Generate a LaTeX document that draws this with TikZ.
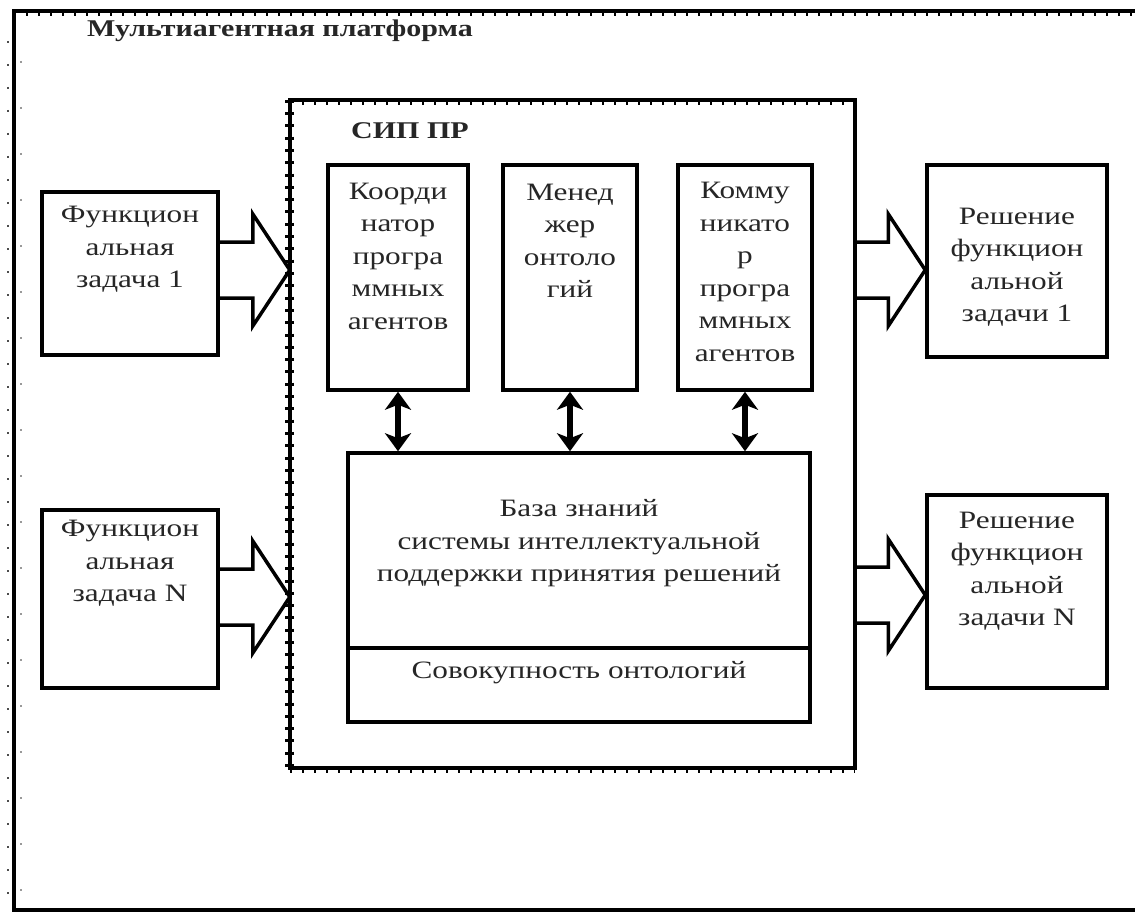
\documentclass[tikz,border=0pt]{standalone}
\usepackage{fontspec}
\setmainfont{Liberation Serif}[FakeStretch=1.25]
\usetikzlibrary{arrows.meta,calc}

\tikzset{
  box/.style={draw, line width=3.5pt, rectangle, inner sep=0pt},
  txt/.style={align=center, font=\fontsize{25}{32.5}\selectfont, text=black!85, inner sep=0pt},
  ttl/.style={font=\bfseries\fontsize{24}{30}\selectfont, text=black!85, anchor=west, inner sep=0pt},
  fat/.style={draw, line width=3.5pt, line join=miter},
  dbl/.style={line width=5.5pt,
    {Stealth[length=18pt,width=26pt,inset=5pt]}-{Stealth[length=18pt,width=26pt,inset=5pt]}},
  edge/.style={line width=3.5pt},
  ticks/.style={line width=4pt, dash pattern=on 2pt off 10pt},
  beads/.style={line width=9pt, dash pattern=on 3pt off 9.3pt},
}

% wide hollow arrow from #1 to #2 (both on the same horizontal line)
\newcommand{\fatarrow}[2]{%
  \draw[fat] let \p1=(#1), \p2=(#2) in
    (\x1,\y1+28pt) -- (\x2-37pt,\y1+28pt) -- (\x2-37pt,\y1+56pt) -- (\x2,\y1)
    -- (\x2-37pt,\y1-56pt) -- (\x2-37pt,\y1-28pt) -- (\x1,\y1-28pt);}

\begin{document}
\begin{tikzpicture}[x=1pt,y=-1pt]
\useasboundingbox (0,0) rectangle (1135,912);

% outer frame of the platform (open on the right)
\coordinate (otr) at (1135,11);
\coordinate (otl) at (14,11);
\coordinate (obl) at (14,910);
\coordinate (obr) at (1135,910);
\draw[edge] (otr) -- (otl) -- (obl) -- (obr);
\draw[ticks] ([yshift=-3pt]otl) -- ([yshift=-3pt]otr);
\draw[line width=2pt, dash pattern=on 2pt off 21pt, black!70] ([xshift=-6pt,yshift=-30pt]otl) -- ([xshift=-6pt]obl);
\draw[line width=1.5pt, dash pattern=on 2pt off 44pt, black!40] ([xshift=7pt,yshift=-50pt]otl) -- ([xshift=7pt]obl);
\node[ttl] (title) at (87,31) {Мультиагентная платформа};

% decision support subsystem frame
\node[minimum width=565pt, minimum height=668pt, inner sep=0pt] (sip) at (572.5,434) {};
\draw[edge] (sip.north east) -- (sip.north west) -- (sip.south west) -- (sip.south east) -- cycle;
\draw[ticks] ([yshift=-3pt]sip.north west) -- ([yshift=-3pt]sip.north east);
\draw[ticks] ([yshift=-3pt]sip.south west) -- ([yshift=-3pt]sip.south east);
\draw[beads] (sip.north west) -- (sip.south west);
\node[ttl] (siptitle) at (351,131) {СИП ПР};

% functional tasks
\node[box, minimum width=176pt, minimum height=163pt] (f1) at (130,273.5) {};
\node[txt] (f1t) at (130,249.5) {Функцион\\альная\\задача 1};
\node[box, minimum width=176pt, minimum height=178pt] (fN) at (130,599) {};
\node[txt] (fNt) at (130,563.5) {Функцион\\альная\\задача N};

% agents of the subsystem
\node[box, minimum width=140pt, minimum height=225pt] (c1) at (398,277.5) {};
\node[txt] (c1t) at (398,256) {Коорди\\натор\\програ\\ммных\\агентов};
\node[box, minimum width=134pt, minimum height=225pt] (c2) at (570,277.5) {};
\node[txt] (c2t) at (570,241) {Менед\\жер\\онтоло\\гий};
\node[box, minimum width=134pt, minimum height=225pt] (c3) at (745,277.5) {};
\node[txt] (c3t) at (745,272) {Комму\\никато\\р\\програ\\ммных\\агентов};

% knowledge base
\node[box, minimum width=462pt, minimum height=195pt] (kb) at (579,550.5) {};
\node[txt] (kbt) at (579,543.5) {База знаний\\системы интеллектуальной\\поддержки принятия решений};
\node[box, minimum width=462pt, minimum height=74pt] (onto) at (579,685) {};
\node[txt] (ontot) at (579,673) {Совокупность онтологий};

% solutions
\node[box, minimum width=180pt, minimum height=192pt] (r1) at (1017,261) {};
\node[txt] (r1t) at (1017,267) {Решение\\функцион\\альной\\задачи 1};
\node[box, minimum width=180pt, minimum height=193pt] (rN) at (1017,591.5) {};
\node[txt] (rNt) at (1017,571) {Решение\\функцион\\альной\\задачи N};

% links between the agents and the knowledge base
\draw[dbl] (c1.south) -- (c1.south |- kb.north);
\draw[dbl] (c2.south) -- (c2.south |- kb.north);
\draw[dbl] (c3.south) -- (c3.south |- kb.north);

% wide arrows in and out of the subsystem
\coordinate (ya) at (0,270);
\coordinate (yb) at (0,597);
\coordinate (yc) at (0,595);
\fatarrow{f1.east |- ya}{sip.west |- ya}
\fatarrow{fN.east |- yb}{sip.west |- yb}
\fatarrow{sip.east |- ya}{r1.west |- ya}
\fatarrow{sip.east |- yc}{rN.west |- yc}
\end{tikzpicture}
\end{document}
